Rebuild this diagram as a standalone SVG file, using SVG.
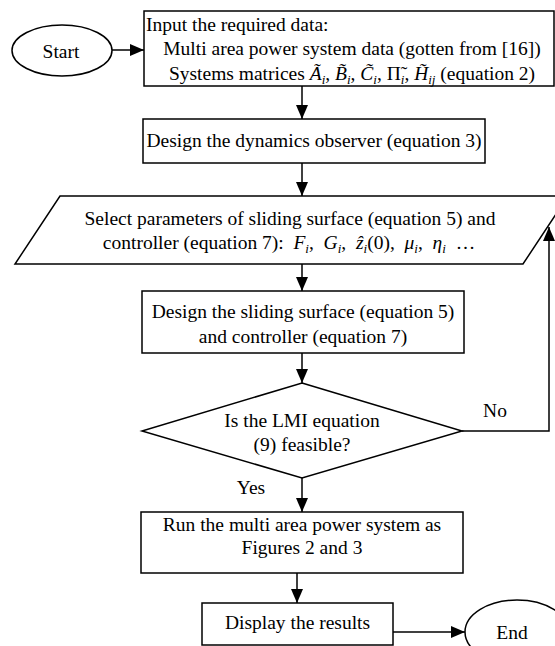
<svg xmlns="http://www.w3.org/2000/svg" width="555" height="646" viewBox="0 0 555 646">
<defs>
<style>
.n{fill:#fff;stroke:#000;stroke-width:1.5}
.c{fill:none;stroke:#000;stroke-width:1.5}
text{font-family:"Liberation Serif","Times New Roman",serif;font-size:19.5px;fill:#000}
.m{text-anchor:middle}
.i{font-style:italic}
.s{font-style:italic;font-size:13px}
</style>
<marker id="ah" markerUnits="userSpaceOnUse" markerWidth="14" markerHeight="12" refX="14" refY="6" orient="auto">
<path d="M0,0 L14,6 L0,12 Z" fill="#000"/>
</marker>
</defs>
<rect width="555" height="646" fill="#fff"/>

<g id="start">
<ellipse class="n" cx="62" cy="50.5" rx="50" ry="25.5"/>
<text class="m" x="61" y="58">Start</text>
</g>

<g id="input">
<rect class="n" x="144" y="11" width="410" height="75"/>
<text x="146" y="31">Input the required data:</text>
<text class="m" x="352" y="55">Multi area power system data (gotten from [16])</text>
<text class="m" x="352" y="80">Systems matrices <tspan class="i">Ã</tspan><tspan class="s" dy="4">i</tspan><tspan dy="-4">, </tspan><tspan class="i">B̃</tspan><tspan class="s" dy="4">i</tspan><tspan dy="-4">, </tspan><tspan class="i">C̃</tspan><tspan class="s" dy="4">i</tspan><tspan dy="-4">, Π̃</tspan><tspan class="s" dy="4">i</tspan><tspan dy="-4">, </tspan><tspan class="i">H̃</tspan><tspan class="s" dy="4">ij</tspan><tspan dy="-4"> (equation 2)</tspan></text>
</g>

<g id="observer">
<rect class="n" x="143" y="119" width="342" height="44"/>
<text class="m" x="314" y="147">Design the dynamics observer (equation 3)</text>
</g>

<g id="select">
<polygon class="n" points="60,196 568,196 523,264 15,264"/>
<text class="m" x="290" y="225">Select parameters of sliding surface (equation 5) and</text>
<text class="m" x="289" y="249">controller (equation 7):&#160;&#160;<tspan class="i">F</tspan><tspan class="s" dy="4">i</tspan><tspan dy="-4">,&#160;&#160;</tspan><tspan class="i">G</tspan><tspan class="s" dy="4">i</tspan><tspan dy="-4">,&#160;&#160;</tspan><tspan class="i">ẑ</tspan><tspan class="s" dy="4">i</tspan><tspan dy="-4">(0),&#160;&#160;</tspan><tspan class="i">μ</tspan><tspan class="s" dy="4">i</tspan><tspan dy="-4">,&#160;&#160;</tspan><tspan class="i">η</tspan><tspan class="s" dy="4">i</tspan><tspan dy="-4">&#160;&#160;…</tspan></text>
</g>

<g id="design">
<rect class="n" x="142" y="291" width="322" height="62"/>
<text class="m" x="303" y="318">Design the sliding surface (equation 5)</text>
<text class="m" x="303" y="343">and controller (equation 7)</text>
</g>

<g id="decision">
<polygon class="n" points="302,383 462,431 302,478 142,431"/>
<text class="m" x="302" y="427">Is the LMI equation</text>
<text class="m" x="302" y="451">(9) feasible?</text>
</g>

<g id="run">
<rect class="n" x="141" y="512" width="322" height="61"/>
<text class="m" x="302" y="531">Run the multi area power system as</text>
<text class="m" x="302" y="554">Figures 2 and 3</text>
</g>

<g id="display">
<rect class="n" x="202" y="603" width="191" height="42"/>
<text class="m" x="297.5" y="629">Display the results</text>
</g>

<g id="end">
<ellipse class="n" cx="517" cy="632" rx="52" ry="32"/>
<text class="m" x="512" y="639">End</text>
</g>

<g id="connectors">
<path class="c" d="M112,50 H144" marker-end="url(#ah)"/>
<path class="c" d="M302,86 V119" marker-end="url(#ah)"/>
<path class="c" d="M302,163 V196" marker-end="url(#ah)"/>
<path class="c" d="M302,264 V291" marker-end="url(#ah)"/>
<path class="c" d="M302,353 V383" marker-end="url(#ah)"/>
<path class="c" d="M302,478 V512" marker-end="url(#ah)"/>
<path class="c" d="M297,573 V603" marker-end="url(#ah)"/>
<path class="c" d="M393,632 H465" marker-end="url(#ah)"/>
<path class="c" d="M462,431 H549 V227" marker-end="url(#ah)"/>
<text class="m" x="495" y="417">No</text>
<text class="m" x="251" y="494">Yes</text>
</g>
</svg>
